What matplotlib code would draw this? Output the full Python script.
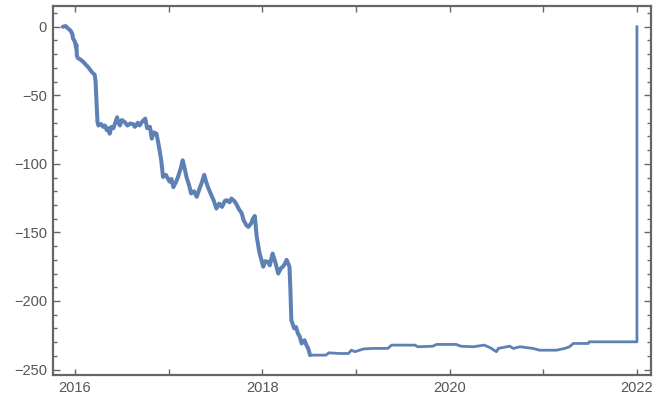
import matplotlib
matplotlib.use("Agg")
import matplotlib.pyplot as plt
from matplotlib.ticker import MultipleLocator, FixedLocator

plt.rcParams['font.family'] = ['Liberation Sans', 'DejaVu Sans']

years = [
    2015.87, 2015.90, 2015.93, 2015.95, 2015.97, 2015.98, 2016.00, 2016.01, 2016.015, 2016.02,
    2016.03, 2016.06, 2016.09, 2016.12, 2016.14, 2016.18, 2016.21, 2016.22, 2016.23, 2016.24,
    2016.25, 2016.28, 2016.30, 2016.32, 2016.34, 2016.36, 2016.37, 2016.39, 2016.41, 2016.43,
    2016.45, 2016.46, 2016.48, 2016.50, 2016.53, 2016.56, 2016.59, 2016.62, 2016.64, 2016.67,
    2016.69, 2016.72, 2016.75, 2016.77, 2016.80, 2016.82, 2016.84, 2016.87, 2016.89, 2016.92,
    2016.94, 2016.97, 2017.01, 2017.03, 2017.05, 2017.08, 2017.10, 2017.13, 2017.15, 2017.17,
    2017.19, 2017.22, 2017.24, 2017.27, 2017.30, 2017.33, 2017.35, 2017.38, 2017.40, 2017.42,
    2017.45, 2017.48, 2017.51, 2017.54, 2017.57, 2017.60, 2017.62, 2017.65, 2017.67, 2017.70,
    2017.72, 2017.75, 2017.78, 2017.80, 2017.83, 2017.85, 2017.88, 2017.90, 2017.92, 2017.94,
    2017.97, 2018.01, 2018.03, 2018.06, 2018.08, 2018.11, 2018.14, 2018.17, 2018.20, 2018.22,
    2018.24, 2018.26, 2018.29, 2018.30, 2018.31, 2018.34, 2018.36, 2018.38, 2018.40, 2018.42,
    2018.45, 2018.47, 2018.49, 2018.51, 2018.68, 2018.71, 2018.82, 2018.92, 2018.95, 2018.99,
    2019.08, 2019.18, 2019.34, 2019.38, 2019.63, 2019.66, 2019.82, 2019.86, 2020.07, 2020.12,
    2020.25, 2020.37, 2020.43, 2020.50, 2020.52, 2020.64, 2020.68, 2020.75, 2020.89, 2020.96,
    2021.14, 2021.23, 2021.28, 2021.32, 2021.48, 2021.49, 2022.00, 2022.00,
]
values = [
    0, 0.5, -1.5, -2.6, -5, -8.7, -11, -14.8, -13, -21,
    -22.8, -24, -25.7, -28, -29.4, -33, -35, -40, -55, -69.5,
    -72, -71, -73, -72, -75.5, -74, -78, -73, -74, -70,
    -66, -69.5, -72, -68, -69.5, -72, -70.6, -71, -73, -70,
    -72, -69, -67, -74, -73, -81.6, -77, -78, -85, -97,
    -109.5, -108, -113, -111, -117, -113, -109.5, -103, -97.4, -103,
    -109.5, -116, -121.6, -120, -124, -118, -114.4, -108, -113, -117,
    -122, -126.5, -132.6, -129, -131.4, -127, -126.5, -128, -125.3, -127,
    -129, -133, -136, -141, -144.8, -146, -143.5, -140, -138, -153,
    -165, -175, -171, -171.5, -174, -165.4, -172, -180, -176, -175,
    -173, -170, -175, -192, -214, -220, -219, -223.7, -226, -231,
    -228.6, -232, -234.6, -239.5, -239.5, -237.8, -238.3, -238.3, -235.9, -237,
    -235, -234.6, -234.6, -232.2, -232.2, -233.4, -233, -231.7, -231.7, -233,
    -233.4, -232.2, -234, -237, -234.6, -233, -234.6, -233.4, -234.6, -235.9,
    -235.9, -234.6, -233.4, -231, -231, -229.8, -229.8, 0,
]
x_ticks = [2016, 2018, 2020, 2022]
x_tick_labels = ["2016", "2018", "2020", "2022"]
y_ticks = [0, -50, -100, -150, -200, -250]
volatile_end = 2018.55

fig = plt.figure(figsize=(6.54, 3.97), dpi=100)
ax = fig.add_axes([0.0803, 0.0554, 0.9151, 0.9307])

line_col = "#5E81B5"
nv = len([x for x in years if x <= volatile_end])
ax.plot(years[:nv], values[:nv], color=line_col, lw=2.9, solid_joinstyle="round",
        solid_capstyle="round")
ax.plot(years[nv - 1:], values[nv - 1:], color=line_col, lw=2.0, solid_joinstyle="round")

ax.set_xlim(2015.76, 2022.15)
ax.set_ylim(-254, 15.5)

frame_col = "#666666"
for s in ax.spines.values():
    s.set_color(frame_col)
    s.set_linewidth(1.6)

ax.xaxis.set_major_locator(FixedLocator(x_ticks))
ax.set_xticklabels(x_tick_labels)
ax.xaxis.set_minor_locator(MultipleLocator(1))
ax.yaxis.set_major_locator(FixedLocator(y_ticks))
ax.yaxis.set_minor_locator(MultipleLocator(10))
ax.tick_params(which="both", direction="in", top=True, right=True,
               color=frame_col, labelcolor="#555555", labelsize=10.5, width=1.0)
ax.tick_params(which="major", length=5, pad=4)
ax.tick_params(which="minor", length=3)
ax.tick_params(axis="x", which="minor", length=4)
ax.tick_params(axis="x", which="major", length=4)

fig.savefig("out.png", dpi=100)
